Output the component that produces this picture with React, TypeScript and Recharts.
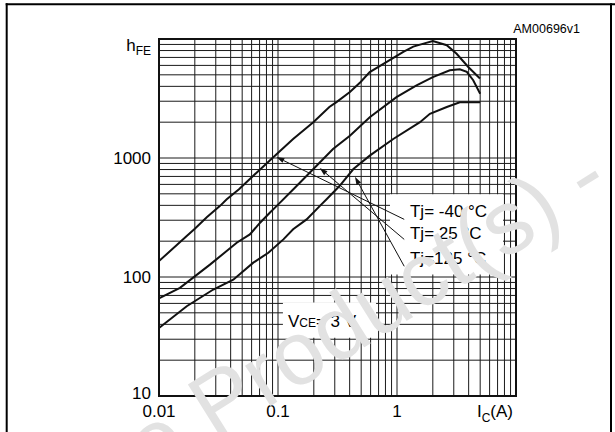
import { LineChart, Line, XAxis, YAxis, CartesianGrid, ReferenceArea, ReferenceLine } from 'recharts'

const FONT = '"Liberation Sans", Arial, Helvetica, sans-serif'

// log grid, Ic (A)
const icGrid = [0.01, 0.02, 0.03, 0.04, 0.05, 0.06, 0.07, 0.08, 0.09, 0.1, 0.2, 0.3, 0.4, 0.5, 0.6, 0.7, 0.8, 0.9, 1, 2, 3, 4, 5, 6, 7, 8, 9, 10]
const icLabelAt = [0.01, 0.1, 1]
const icLabels = ['0.01', '0.1', '1']

// log grid, hFE
const hfeGrid = [10, 20, 30, 40, 50, 60, 70, 80, 90, 100, 200, 300, 400, 500, 600, 700, 800, 900, 1000, 2000, 3000, 4000, 5000, 6000, 7000, 8000, 9000, 10000]
const hfeLabelAt = [10, 100, 1000]
const hfeLabels = ['10', '100', '1000']

// Tj = -40 °C
const icM40 = [0.01, 0.0171, 0.02, 0.0252, 0.0326, 0.0371, 0.047, 0.062, 0.0977, 0.134, 0.198, 0.27, 0.31, 0.402, 0.495, 0.59, 0.82, 1.13, 1.37, 1.67, 2.0, 2.62, 3.17, 3.97, 4.98]
const hfeM40 = [136, 221, 254, 318, 396, 450, 547, 710, 1082, 1445, 2000, 2680, 2950, 3580, 4355, 5270, 6410, 7800, 8630, 9150, 9600, 8870, 7520, 5820, 4650]

// Tj = 25 °C
const ic25 = [0.01, 0.015, 0.0268, 0.045, 0.058, 0.0707, 0.0857, 0.0977, 0.144, 0.211, 0.29, 0.402, 0.59, 0.99, 1.46, 2.0, 2.78, 3.37, 3.86, 4.37, 5.0]
const hfe25 = [66, 81, 127, 194, 228, 286, 348, 396, 584, 861, 1190, 1540, 2200, 3250, 4070, 4790, 5460, 5570, 5300, 4500, 3470]

// Tj = 125 °C
const ic125 = [0.01, 0.0171, 0.0286, 0.0421, 0.062, 0.083, 0.111, 0.134, 0.174, 0.225, 0.256, 0.33, 0.43, 0.59, 0.93, 1.56, 1.89, 2.62, 3.37, 5.0]
const hfe125 = [37.3, 56.8, 78.5, 95, 132, 160, 207, 252, 305, 396, 450, 584, 807, 1047, 1445, 2000, 2350, 2680, 2940, 2940]

const tempLabels = ['Tj= -40 °C', 'Tj= 25 °C', 'Tj=125 °C']
// leader arrows: from the label (start) to the curve (end)
const arrowFromIc = [1.15, 1.15, 1.15]
const arrowFromHfe = [305, 207, 123]
const arrowToIc = [0.097, 0.224, 0.443]
const arrowToHfe = [1019, 824, 695]

const toPoints = (xs: number[], ys: number[]) => xs.map((x, i) => ({ ic: x, hfe: ys[i] }))

const series = [toPoints(icM40, hfeM40), toPoints(ic25, hfe25), toPoints(ic125, hfe125)]

function IcTick({ x, y, payload }: any) {
  const v = payload.value
  if (v === 10) {
    return (
      <text x={x - 3} y={y} dy="0.78em" textAnchor="end" fontSize={17} fontFamily={FONT} fill="#000">
        I<tspan fontSize={12} dy={5}>C</tspan>
        <tspan dy={-5}>(A)</tspan>
      </text>
    )
  }
  const i = icLabelAt.indexOf(v)
  if (i < 0) return <g />
  return (
    <text x={x} y={y} dy="0.74em" textAnchor="middle" fontSize={17} fontFamily={FONT} fill="#000">
      {icLabels[i]}
    </text>
  )
}

function HfeTick({ x, y, payload }: any) {
  const v = payload.value
  if (v === 10000) {
    return (
      <text x={x} y={y + 12} textAnchor="end" fontSize={17} fontFamily={FONT} fill="#000">
        h<tspan fontSize={12} dy={4}>FE</tspan>
      </text>
    )
  }
  const i = hfeLabelAt.indexOf(v)
  if (i < 0) return <g />
  return (
    <text x={x} y={y} dy={v === 10 ? '0.2em' : '0.36em'} textAnchor="end" fontSize={17} fontFamily={FONT} fill="#000">
      {hfeLabels[i]}
    </text>
  )
}

function arrowShape(p: any) {
  const { x1, y1, x2, y2 } = p
  const a = Math.atan2(y2 - y1, x2 - x1)
  const len = 8
  const w = 2.6
  const bx = x2 - len * Math.cos(a)
  const by = y2 - len * Math.sin(a)
  const pts = [
    `${x2},${y2}`,
    `${bx + w * Math.sin(a)},${by - w * Math.cos(a)}`,
    `${bx - w * Math.sin(a)},${by + w * Math.cos(a)}`,
  ].join(' ')
  return (
    <g>
      <line x1={x1} y1={y1} x2={bx} y2={by} stroke="#111" strokeWidth={1} />
      <polygon points={pts} fill="#111" />
    </g>
  )
}

export default function App() {
  return (
    <div style={{ position: 'absolute', left: 0, top: 0, width: 615, height: 432, background: '#fff', overflow: 'hidden' }}>
      <LineChart width={615} height={432} margin={{ top: 39, right: 99, bottom: 6, left: 109 }}>
        <CartesianGrid stroke="#1a1a1a" strokeWidth={1} />
        <XAxis
          dataKey="ic"
          type="number"
          scale="log"
          domain={[0.01, 10]}
          ticks={icGrid}
          interval={0}
          allowDataOverflow
          axisLine={false}
          tickLine={false}
          height={30}
          tick={<IcTick />}
        />
        <YAxis
          dataKey="hfe"
          type="number"
          scale="log"
          domain={[10, 10000]}
          ticks={hfeGrid}
          interval={0}
          allowDataOverflow
          axisLine={false}
          tickLine={false}
          width={50}
          tick={<HfeTick />}
        />
        <ReferenceArea
          x1={0.873}
          x2={7.78}
          y1={105}
          y2={497}
          fill="#fff"
          fillOpacity={1}
          stroke="none"
          label={({ viewBox }: any) => (
            <text fontSize={17} fontFamily={FONT} fill="#000">
              {tempLabels.map((t, i) => (
                <tspan key={t} x={viewBox.x + 20} y={viewBox.y + [23, 45, 70][i]}>
                  {t}
                </tspan>
              ))}
            </text>
          )}
        />
        <ReferenceArea
          x1={0.11}
          x2={0.667}
          y1={30.8}
          y2={61}
          fill="#fff"
          fillOpacity={1}
          stroke="none"
          label={({ viewBox }: any) => (
            <text x={viewBox.x + 5} y={viewBox.y + 24} fontSize={17} fontFamily={FONT} fill="#000">
              V<tspan fontSize={12}>CE</tspan>
              <tspan fontSize={17}>= 3 V</tspan>
            </text>
          )}
        />
        {series.map((d, i) => (
          <Line
            key={i}
            data={d}
            dataKey="hfe"
            type="linear"
            stroke="#111"
            strokeWidth={2}
            dot={false}
            isAnimationActive={false}
          />
        ))}
        {arrowFromIc.map((x, i) => (
          <ReferenceLine
            key={'a' + i}
            segment={[
              { x, y: arrowFromHfe[i] },
              { x: arrowToIc[i], y: arrowToHfe[i] },
            ]}
            shape={arrowShape}
          />
        ))}
        <ReferenceArea x1={0.01} x2={10} y1={10} y2={10000} fill="none" stroke="#111" strokeWidth={2} />
      </LineChart>
      <svg width={615} height={432} style={{ position: 'absolute', left: 0, top: 0, pointerEvents: 'none' }}>
        <text x={580} y={33} textAnchor="end" fontSize={12.5} fontFamily={FONT} fill="#000">
          AM00696v1
        </text>
        <line x1={6.7} y1={3.3} x2={6.7} y2={432} stroke="#000" strokeWidth={2} />
        <line x1={5.7} y1={4.3} x2={615} y2={4.3} stroke="#000" strokeWidth={2} />
        <line x1={611} y1={3.3} x2={611} y2={432} stroke="#000" strokeWidth={2} />
        <text
          x={588}
          y={180}
          dy="0.26em"
          transform="rotate(-32 588 180)"
          textAnchor="middle"
          fontSize={90}
          fontFamily={FONT}
          fill="#e2e2e2"
        >
          Obsolete Product(s) - Obsolete Product(s)
        </text>
      </svg>
    </div>
  )
}
